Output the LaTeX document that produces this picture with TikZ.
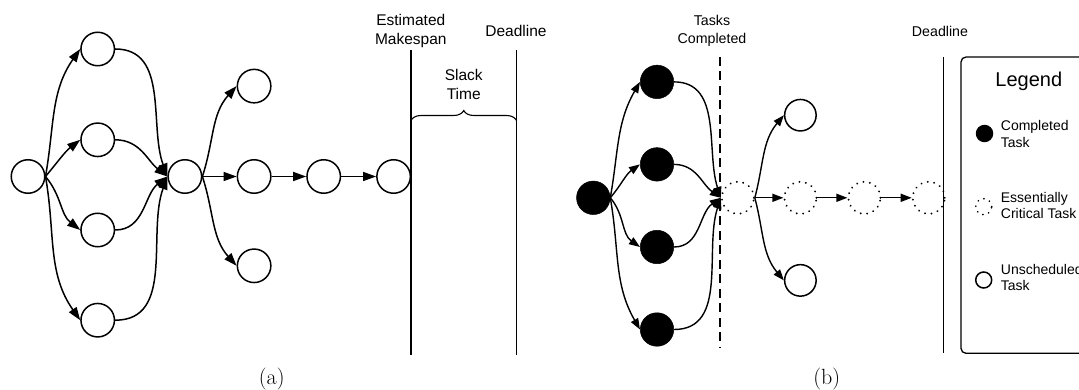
\documentclass[tikz,border=0pt]{standalone}
\usepackage{fontspec}
\newfontfamily\lab{Liberation Sans}
\usetikzlibrary{arrows.meta,decorations.pathreplacing}
\tikzset{
 task/.style={circle,draw,line width=1.5pt,minimum size=33.5pt,inner sep=0pt},
 done/.style={circle,fill=black,draw=black,line width=0.5pt,minimum size=33.5pt,inner sep=0pt},
 crit/.style={circle,draw,line width=2pt,line cap=round,dash pattern=on 0.1pt off 6.4pt,minimum size=32pt,inner sep=0pt},
 free/.style={circle,draw,line width=1.5pt,minimum size=31.5pt,inner sep=0pt},
 arra/.style={line width=1.5pt,-{Triangle[length=13pt,width=9pt]}},
 arrb/.style={line width=1.4pt,-{Triangle[length=11pt,width=8pt]}},
 lbla/.style={font=\lab\fontsize{15.5}{19.3}\selectfont,align=center,inner sep=0pt},
 lblb/.style={font=\lab\fontsize{14.2}{18.3}\selectfont,align=center,inner sep=0pt},
 legt/.style={font=\lab\fontsize{14}{16.5}\selectfont,align=left,inner sep=0pt,anchor=west},
 capt/.style={font=\fontsize{22}{26}\selectfont,inner sep=0pt},
 bar/.style={line width=1.4pt},
}
\begin{document}
\begin{tikzpicture}[x=1pt,y=1pt]
\useasboundingbox (0,0) rectangle (1079,-390);
\clip (0,0) rectangle (1079,-390);
% ---------- (a) ----------
\node[task] (s)  at (28,-176.5) {};
\node[task] (a1) at (97.7,-49) {};
\node[task] (a2) at (97.7,-139.8) {};
\node[task] (a3) at (97.7,-230) {};
\node[task] (a4) at (97.7,-320.2) {};
\node[task] (h)  at (184.9,-176.5) {};
\node[task] (c1) at (254.1,-86.1) {};
\node[task] (c2) at (254.1,-176.5) {};
\node[task] (c3) at (254.1,-265.8) {};
\node[task] (m2) at (323.7,-176.5) {};
\node[task] (m3) at (393.6,-176.5) {};
\draw[arra] (s.east) to[out=80,in=235] (a1.west);
\draw[arra] (s.east) to[out=50,in=218] (a2.west);
\draw[arra] (s.east) to[out=-50,in=142] (a3.west);
\draw[arra] (s.east) to[out=-80,in=125] (a4.west);
\draw[arra] (a1.east) to[out=0,in=110] (h.west);
\draw[arra] (a2.east) to[out=0,in=142] (h.west);
\draw[arra] (a3.east) to[out=0,in=218] (h.west);
\draw[arra] (a4.east) to[out=0,in=250] (h.west);
\draw[arra] (h.east) to[out=72,in=228] (c1.west);
\draw[arra] (h.east) -- (c2.west);
\draw[arra] (h.east) to[out=-72,in=132] (c3.west);
\draw[arra] (c2.east) -- (m2.west);
\draw[arra] (m2.east) -- (m3.west);
\draw[bar] (411,-49.9) -- (411,-354.7);
\draw[bar] (516.5,-49.9) -- (516.5,-354.7);
\draw[line width=1.1pt,decorate,decoration={brace,amplitude=10pt}] (411,-120.5) -- (516.5,-120.5);
\node[lbla] (em) at (410.8,-31) {Estimated\\Makespan};
\node[lbla] (dla) at (516,-31) {Deadline};
\node[lbla] (sl) at (463.7,-84.2) {Slack\\Time};
\node[capt] (ca) at (271.7,-379) {(a)};
% ---------- (b) ----------
\node[done] (t)  at (593.3,-197.8) {};
\node[done] (b1) at (657,-81.9) {};
\node[done] (b2) at (657,-164.4) {};
\node[done] (b3) at (657,-247) {};
\node[done] (b4) at (657,-329.5) {};
\node[crit] (d1) at (737.8,-197.8) {};
\node[crit] (d2) at (800.4,-197.8) {};
\node[crit] (d3) at (864.4,-197.8) {};
\node[crit] (d4) at (928.7,-197.8) {};
\node[free] (u)  at (800.4,-115.2) {};
\node[free] (l)  at (800.4,-280.4) {};
\draw[arrb] (t.east) to[out=80,in=240] (b1.west);
\draw[arrb] (t.east) to[out=50,in=215] (b2.west);
\draw[arrb] (t.east) to[out=-50,in=145] (b3.west);
\draw[arrb] (t.east) to[out=-80,in=120] (b4.west);
\draw[arrb] (b1.east) to[out=0,in=108] (d1.west);
\draw[arrb] (b2.east) to[out=0,in=145] (d1.west);
\draw[arrb] (b3.east) to[out=0,in=215] (d1.west);
\draw[arrb] (b4.east) to[out=0,in=252] (d1.west);
\draw[arrb] (d1.east) to[out=75,in=230] (u.west);
\draw[arrb] (d1.east) -- (d2.west);
\draw[arrb] (d1.east) to[out=-75,in=130] (l.west);
\draw[arrb] (d2.east) -- (d3.west);
\draw[arrb] (d3.east) -- (d4.west);
\draw[line width=1.3pt,dash pattern=on 9pt off 5.5pt] (719.9,-56.8) -- (719.9,-347.4);
\draw[bar] (943.5,-56.8) -- (943.5,-353.3);
\node[lblb] (tcm) at (712,-30.5) {Tasks\\Completed};
\node[lblb] (dlb) at (940,-31) {Deadline};
\node[capt] (cb) at (826.7,-379) {(b)};
% legend
\draw[line width=1.3pt,rounded corners=5pt] (961,-57) rectangle (1200,-353.3);
\node[font=\lab\fontsize{20}{24}\selectfont,inner sep=0pt] (lg) at (1028.8,-81) {Legend};
\node[circle,fill=black,minimum size=17.5pt,inner sep=0pt] (k1) at (984.5,-133.5) {};
\node[crit,line width=1.8pt,dash pattern=on 0.1pt off 6pt,minimum size=16pt] (k2) at (983.7,-206.7) {};
\node[circle,draw,line width=1.5pt,minimum size=16pt,inner sep=0pt] (k3) at (983.7,-280) {};
\node[legt] (l1) at (1000.7,-134) {Completed\\Task};
\node[legt] (l2) at (1000.7,-205.3) {Essentially\\Critical Task};
\node[legt] (l3) at (1000.7,-277.5) {Unscheduled\\Task};
\end{tikzpicture}
\end{document}
